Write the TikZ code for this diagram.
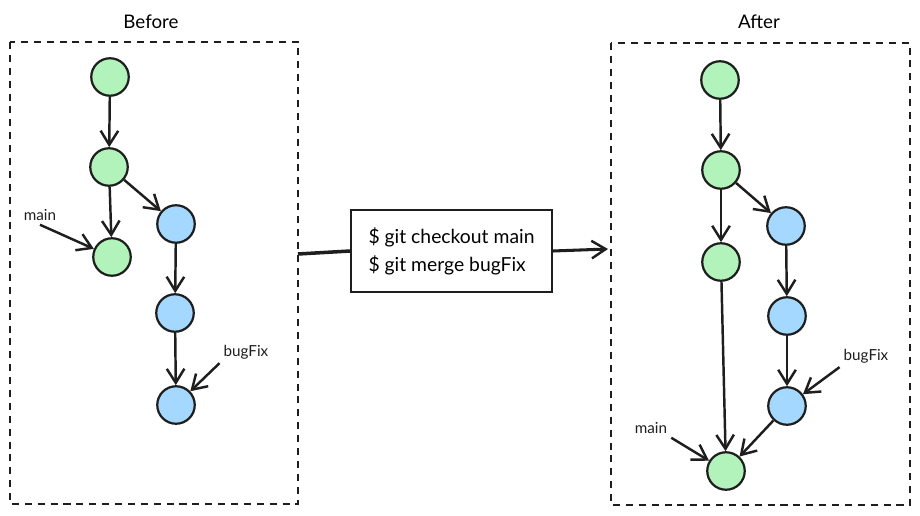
\documentclass[tikz,border=0pt]{standalone}
\usepackage{fontspec}
\setmainfont{Lato}
\usepackage{xcolor}
\usetikzlibrary{arrows.meta}
\definecolor{stroke}{HTML}{1E1E1E}
\definecolor{greenfill}{HTML}{B2F2BB}
\definecolor{bluefill}{HTML}{A5D8FF}
\tikzset{
	commit/.style={circle,draw=stroke,line width=1.9pt,minimum size=32pt,inner sep=0pt},
	onmain/.style={commit,fill=greenfill},
	onfix/.style={commit,fill=bluefill},
	frame/.style={draw=stroke,line width=1.9pt,dash pattern=on 6pt off 5pt},
	branch/.style={font=\fontsize{13}{15}\selectfont,text=stroke},
	barb/.style={-{Straight Barb[length=12pt,width=15pt,line width=2.1pt]},draw=stroke,line width=2.1pt}
}
\begin{document}
\begin{tikzpicture}[x=0.03cm,y=-0.03cm]
	\useasboundingbox (0,0) rectangle (920,516);
	% frames
	\draw[frame] (10,42) rectangle (298,504);
	\draw[frame] (611,43) rectangle (910,505);
	\node[font=\fontsize{16}{19}\selectfont] (before) at (151,22) {Before};
	\node[font=\fontsize{16}{19}\selectfont] (after) at (759,22) {After};
	%
	\node[onmain] (A1) at (110,77) {};
	\node[onmain] (A2) at (109,167) {};
	\node[onmain] (A3) at (112,257) {};
	\node[onfix] (F1) at (176,224) {};
	\node[onfix] (F2) at (175,313) {};
	\node[onfix] (F3) at (176,405) {};
	\node[branch] (mainL) at (40,215) {main};
	\node[branch] (fixL) at (246,352) {bugFix};
	%
	\path[every edge/.style={barb}]
	(A1) edge (A2)
	(A2) edge (A3)
	(A2) edge (F1)
	(F1) edge (F2)
	(F2) edge (F3)
	(mainL.south) edge (A3)
	(fixL.south west) edge (F3);
	%
	\node[draw=stroke,line width=1.9pt,fill=white,align=left,inner xsep=10pt,inner ysep=8pt,
		font=\fontsize{16.5}{24}\selectfont,minimum width=171pt,minimum height=70pt] (cmd) at (451.5,251)
		{\$ git checkout main\\\$ git merge bugFix};
	\coordinate (leftedge) at (298,254);
	\coordinate (rightedge) at (608,249);
	\draw[draw=stroke,line width=3pt] (leftedge) -- (cmd.west);
	\draw[barb,line width=2.6pt] (cmd.east) -- (rightedge);
	%
	\node[onmain] (B1) at (720,80) {};
	\node[onmain] (B2) at (721,170) {};
	\node[onmain] (B3) at (721,262) {};
	\node[onfix] (G1) at (786,226) {};
	\node[onfix] (G2) at (787,316) {};
	\node[onfix] (G3) at (787,406) {};
	\node[onmain] (B4) at (726,471) {};
	\node[branch] (mainR) at (651,428) {main};
	\node[branch] (fixR) at (866,356) {bugFix};
	%
	\path[every edge/.style={barb}]
	(B1) edge (B2)
	(B2) edge (B3)
	(B2) edge (G1)
	(G1) edge (G2)
	(G2) edge (G3)
	(B3) edge (B4)
	(G3) edge (B4)
	(mainR.south east) edge (B4)
	(fixR.south west) edge (G3);
\end{tikzpicture}
\end{document}
